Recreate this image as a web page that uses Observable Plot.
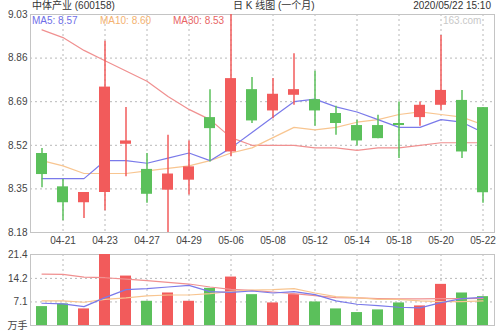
<!DOCTYPE html>
<html><head><meta charset="utf-8">
<script src="https://cdn.jsdelivr.net/npm/d3@7"></script>
<script src="https://cdn.jsdelivr.net/npm/@observablehq/plot@0.6"></script>
<style>
body{margin:0;background:#fff;}
#wrap{position:relative;width:500px;height:333px;overflow:hidden;font-family:"Liberation Sans","Noto Sans CJK SC",sans-serif;}
.t{position:absolute;font-size:10px;line-height:12px;white-space:nowrap;}
</style></head><body>
<div id="wrap">
  <div id="main" style="position:absolute;left:0;top:0"></div>
  <div id="vol" style="position:absolute;left:0;top:249px"></div>
</div>
<script>
const dates = ["04-20","04-21","04-22","04-23","04-24","04-27","04-28","04-29","04-30","05-06","05-07",
               "05-08","05-11","05-12","05-13","05-14","05-15","05-18","05-19","05-20","05-21","05-22"];
const openP  = [8.488,8.358,8.296,8.336,8.524,8.426,8.345,8.384,8.628,8.494,8.737,
                8.654,8.715,8.698,8.644,8.597,8.597,8.605,8.628,8.676,8.695,8.667];
const closeP = [8.406,8.296,8.336,8.747,8.537,8.329,8.408,8.436,8.585,8.780,8.615,
                8.719,8.737,8.654,8.605,8.537,8.546,8.597,8.676,8.734,8.494,8.335];
const highP  = [8.508,8.387,8.336,8.926,8.667,8.488,8.559,8.537,8.737,9.030,8.784,
                8.780,8.877,8.809,8.672,8.618,8.637,8.689,8.689,8.948,8.734,8.667];
const lowP   = [8.354,8.226,8.235,8.265,8.397,8.294,8.180,8.326,8.455,8.475,8.605,
                8.624,8.676,8.594,8.559,8.517,8.546,8.469,8.594,8.657,8.469,8.294];
const ma5  = [8.39,8.39,8.39,8.46,8.46,8.45,8.47,8.49,8.46,8.51,8.57,8.63,8.69,8.70,8.67,8.65,8.62,8.59,8.59,8.62,8.61,8.57];
const ma10 = [8.46,8.44,8.41,8.41,8.41,8.42,8.43,8.44,8.46,8.49,8.51,8.55,8.59,8.58,8.59,8.61,8.62,8.64,8.65,8.64,8.63,8.60];
const ma30 = [8.97,8.94,8.89,8.85,8.81,8.77,8.71,8.66,8.62,8.55,8.52,8.52,8.52,8.51,8.51,8.50,8.51,8.51,8.52,8.53,8.53,8.53];
const volume = [5.7,6.5,5.0,21.4,14.9,7.3,9.8,7.3,11.2,14.6,9.3,6.8,9.3,7.1,5.0,3.9,4.7,6.8,5.9,12.4,9.8,8.7];
const vma5  = [6.7,6.5,5.7,8.4,10.8,11.1,11.6,12.1,10.2,10.0,10.4,9.8,10.2,9.3,7.4,6.4,6.0,5.5,5.3,6.9,8.1,8.5];
const vma10 = [7.4,7.4,7.0,7.9,8.3,8.9,9.2,9.2,9.6,10.3,10.7,10.8,11.1,9.8,8.7,8.4,7.9,7.9,7.4,7.2,7.2,7.4];
const vma30 = [15.5,15.4,14.6,14.4,14.0,13.5,13.0,12.5,11.6,10.9,10.6,10.1,9.6,9.0,8.4,8.3,8.1,8.0,8.0,8.1,8.1,8.2];
const xTickLabels = ["04-21","04-23","04-27","04-29","05-06","05-08","05-12","05-14","05-18","05-20","05-22"];
const priceTicks = [8.18,8.35,8.52,8.69,8.86,9.03];
const volTicks = [0,7.1,14.2,21.4];
const volGrid = [7.1,14.2];
const stockTitle = "中体产业 (600158)";
const chartTitle = "日 K 线图 (一个月)";
const stamp = "2020/05/22 15:10";
const watermark = "163.com";

const RED = "#f25b5b", GREEN = "#5bc05b";
const C5 = "#7a7aea", C10 = "#f8c590", C30 = "#f09090";
const FONT = "Liberation Sans, Noto Sans CJK SC, sans-serif";

const rows = dates.map((d, i) => ({
  date: d, open: openP[i], close: closeP[i], high: highP[i], low: lowP[i],
  ma5: ma5[i], ma10: ma10[i], ma30: ma30[i],
  vol: volume[i], vma5: vma5[i], vma10: vma10[i], vma30: vma30[i],
  color: closeP[i] >= openP[i] ? RED : GREEN
}));

const gridStyle = {stroke: "#b8b8b8", strokeOpacity: 1, strokeDasharray: "2,3"};

const main = Plot.plot({
  width: 500, height: 250, marginTop: 14, marginBottom: 18, marginLeft: 30, marginRight: 6,
  style: {fontSize: "10px", fontFamily: FONT, color: "#444", background: "transparent"},
  x: {type: "band", domain: dates, padding: 0},
  y: {domain: [8.18, 9.03]},
  color: {type: "identity"},
  marks: [
    Plot.gridY(priceTicks, gridStyle),
    Plot.gridX(xTickLabels, gridStyle),
    Plot.frame({stroke: "#c4c4c4"}),
    Plot.axisY(priceTicks, {tickSize: 0, tickPadding: 3, tickFormat: d => d.toFixed(2), label: null}),
    Plot.axisX(xTickLabels, {tickSize: 0, tickPadding: 4, label: null}),
    Plot.line(rows, {x: "date", y: "ma30", stroke: C30, strokeWidth: 1.2}),
    Plot.line(rows, {x: "date", y: "ma10", stroke: C10, strokeWidth: 1.2}),
    Plot.line(rows, {x: "date", y: "ma5", stroke: C5, strokeWidth: 1.2}),
    Plot.ruleX(rows, {x: "date", y1: "low", y2: "high", stroke: "color", strokeWidth: 1.5}),
    Plot.barY(rows, {x: "date", y1: "open", y2: "close", fill: "color", insetLeft: 5, insetRight: 5})
  ]
});
document.getElementById("main").appendChild(main);

const vol = Plot.plot({
  width: 500, height: 84, marginTop: 5, marginBottom: 8, marginLeft: 30, marginRight: 6,
  style: {fontSize: "10px", fontFamily: FONT, color: "#444", background: "transparent"},
  x: {type: "band", domain: dates, padding: 0, axis: null},
  y: {domain: [0, 21.4]},
  color: {type: "identity"},
  marks: [
    Plot.gridY(volGrid, gridStyle),
    Plot.gridX(xTickLabels, gridStyle),
    Plot.frame({stroke: "#c4c4c4"}),
    Plot.axisY(volTicks, {tickSize: 0, tickPadding: 3, tickFormat: d => d === 0 ? "万手" : String(d), label: null}),
    Plot.barY(rows, {x: "date", y: "vol", fill: "color", insetLeft: 5, insetRight: 5}),
    Plot.line(rows, {x: "date", y: "vma30", stroke: C30, strokeWidth: 1.2}),
    Plot.line(rows, {x: "date", y: "vma10", stroke: C10, strokeWidth: 1.2}),
    Plot.line(rows, {x: "date", y: "vma5", stroke: C5, strokeWidth: 1.2})
  ]
});
document.getElementById("vol").appendChild(vol);

const wrap = document.getElementById("wrap");
function addText(txt, css) {
  const el = document.createElement("div");
  el.className = "t";
  el.textContent = txt;
  Object.assign(el.style, css);
  wrap.appendChild(el);
}
addText(stockTitle, {left: "32px", top: "0px", color: "#333"});
addText(chartTitle, {left: "233px", top: "0px", color: "#333"});
addText(stamp, {right: "9px", top: "0px", color: "#333"});
addText(watermark, {left: "443px", top: "15px", color: "#c8c8c8"});
addText("MA5: " + ma5[ma5.length - 1].toFixed(2), {left: "32px", top: "15px", color: "#6e6ee8"});
addText("MA10: " + ma10[ma10.length - 1].toFixed(2), {left: "100px", top: "15px", color: "#f4b270"});
addText("MA30: " + ma30[ma30.length - 1].toFixed(2), {left: "173px", top: "15px", color: "#e86464"});
</script>
</body></html>
